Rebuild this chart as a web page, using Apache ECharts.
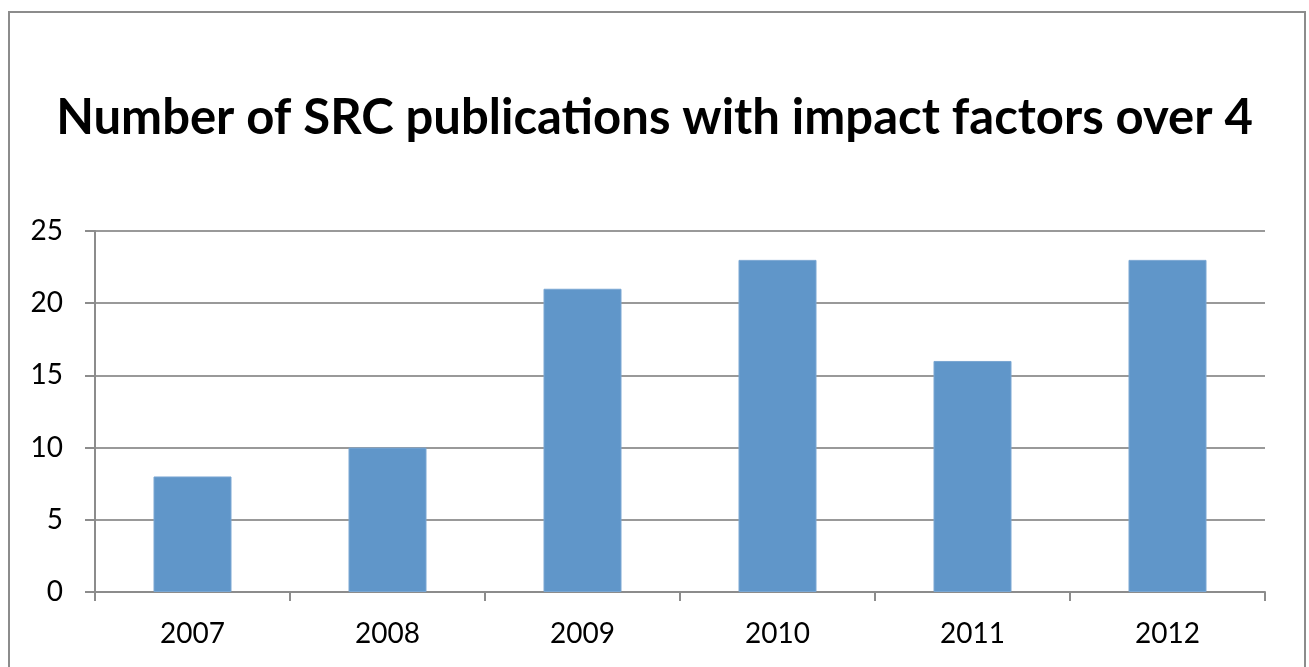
<!DOCTYPE html>
<html>
<head>
<meta charset="utf-8">
<script src="https://cdn.jsdelivr.net/npm/echarts@6/dist/echarts.min.js"></script>
<style>
  html, body { margin: 0; padding: 0; background: #fff; }
  #chart { width: 1309px; height: 667px; }
</style>
</head>
<body>
<div id="chart"></div>
<script>
const years = ['2007', '2008', '2009', '2010', '2011', '2012'];
const publications = [8, 10, 21, 23, 16, 23];

const chart = echarts.init(document.getElementById('chart'));
const font = 'Lato, "Open Sans", sans-serif';

chart.setOption({
  animation: false,
  title: {
    text: 'Number of SRC publications with impact factors over 4',
    left: 'center',
    top: 89,
    textStyle: { fontFamily: font, fontWeight: 'bold', fontSize: 49, color: '#000' }
  },
  graphic: [{
    type: 'rect',
    shape: { x: 9, y: 12, width: 1296, height: 700 },
    style: { fill: 'none', stroke: '#8c8c8c', lineWidth: 2 },
    silent: true
  }],
  grid: { left: 95, right: 44, top: 231, bottom: 75 },
  xAxis: {
    type: 'category',
    data: years,
    axisLine: { lineStyle: { color: '#8c8c8c', width: 2 } },
    axisTick: { show: true, length: 9, lineStyle: { color: '#8c8c8c', width: 2 } },
    axisLabel: { fontFamily: font, fontSize: 28, color: '#000', margin: 28 }
  },
  yAxis: {
    type: 'value',
    min: 0,
    max: 25,
    interval: 5,
    axisLine: { show: true, lineStyle: { color: '#8c8c8c', width: 2 } },
    axisTick: { show: true, length: 10, lineStyle: { color: '#8c8c8c', width: 2 } },
    splitLine: { lineStyle: { color: '#999', width: 2 } },
    axisLabel: { fontFamily: font, fontSize: 28, color: '#000', margin: 32 }
  },
  series: [{
    type: 'bar',
    data: publications,
    barWidth: '40%',
    itemStyle: { color: '#6096c9', borderColor: '#7aa7d3', borderWidth: 1 }
  }]
});
</script>
</body>
</html>
